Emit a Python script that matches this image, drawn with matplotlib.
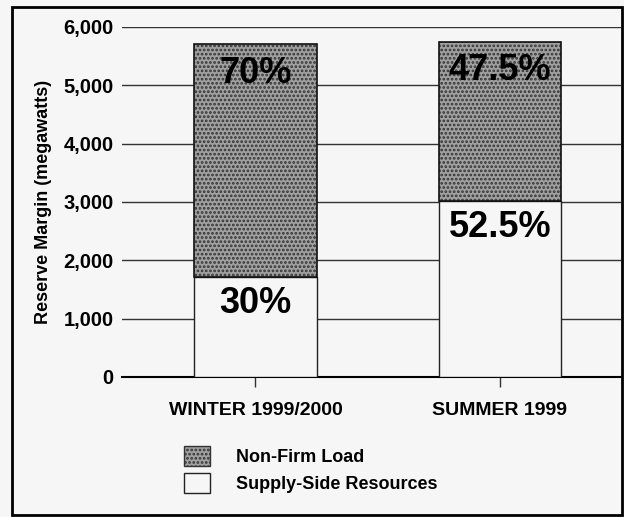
import matplotlib.pyplot as plt
from matplotlib.patches import Rectangle

seasons = ['WINTER 1999/2000', 'SUMMER 1999']
supply_side = [1710, 3020]
non_firm = [3990, 2730]
supply_pct = ['30%', '52.5%']
non_firm_pct = ['70%', '47.5%']
yticks = [0, 1000, 2000, 3000, 4000, 5000, 6000]

plt.rcParams['font.family'] = ['Liberation Sans', 'DejaVu Sans']
plt.rcParams['hatch.linewidth'] = 1.3

bg = '#f6f6f6'
fig = plt.figure(figsize=(6.24, 5.17), dpi=100, facecolor=bg)
ax = fig.add_axes([0.1955, 0.2708, 0.7995, 0.677])
ax.set_facecolor(bg)

x = range(len(seasons))
ax.bar(x, supply_side, width=0.5, color=bg, edgecolor='#222222', linewidth=1, zorder=3)
ax.bar(x, non_firm, width=0.5, bottom=supply_side, color='#a0a0a0', edgecolor='#333333',
       hatch='....', linewidth=0, zorder=3)
ax.bar(x, non_firm, width=0.5, bottom=supply_side, fill=False, edgecolor='#111111',
       linewidth=1.2, zorder=4)

for i in x:
    top = supply_side[i] + non_firm[i]
    ax.annotate(non_firm_pct[i], (i, top), xytext=(0, -21), textcoords='offset points',
                ha='center', va='center', fontsize=26, fontweight='bold', zorder=5)
    ax.annotate(supply_pct[i], (i, supply_side[i]), xytext=(0, -19), textcoords='offset points',
                ha='center', va='center', fontsize=26, fontweight='bold', zorder=5)

ax.set_xlim(-0.546, 1.495)
ax.set_ylim(0, 6000)
ax.set_yticks(yticks)
ax.set_yticklabels([f'{v:,}' for v in yticks], fontsize=14.5, fontweight='bold')
ax.set_xticks(list(x))
ax.set_xticklabels(seasons, fontsize=14, fontweight='bold')
ax.tick_params(axis='y', length=0, pad=6)
ax.tick_params(axis='x', length=7, width=1, pad=11, color='#333333')
ax.yaxis.grid(True, color='#333333', linewidth=1, zorder=0)
ax.set_axisbelow(True)
for s in ['top', 'right', 'left']:
    ax.spines[s].set_visible(False)
ax.spines['bottom'].set_linewidth(1.5)
ax.set_ylabel('Reserve Margin (megawatts)', fontsize=13, fontweight='bold', labelpad=8)

h_nf = Rectangle((0, 0), 1, 1, facecolor='#a0a0a0', edgecolor='#333333', hatch='....', linewidth=1)
h_ss = Rectangle((0, 0), 1, 1, facecolor=bg, edgecolor='#222222', linewidth=1)
fig.legend([h_nf, h_ss], ['Non-Firm Load', 'Supply-Side Resources'], loc='upper left',
           bbox_to_anchor=(0.269, 0.168), frameon=False,
           prop={'size': 13, 'weight': 'bold'},
           handlelength=1.45, handleheight=1.28, handletextpad=1.4, labelspacing=0.4)

fig.add_artist(Rectangle((0.019, 0.004), 0.977, 0.982, transform=fig.transFigure,
                         fill=False, edgecolor='black', linewidth=2))

fig.savefig('out.png', dpi=100, facecolor=bg)
